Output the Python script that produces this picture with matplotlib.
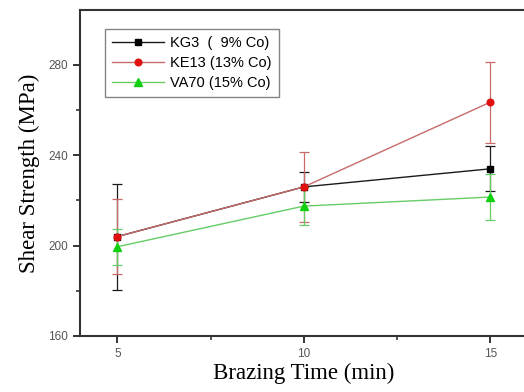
import matplotlib.pyplot as plt
from matplotlib.lines import Line2D
from matplotlib.ticker import MultipleLocator, FixedLocator

# Brazing time (min)
time = [5, 10, 15]

# shear strength (MPa) and error bars
kg3 = [204, 226, 234]
kg3_err = [23.5, 6.6, 10]
ke13 = [204, 226, 263.5]
ke13_err = [16.5, 15.4, 18]
va70 = [199.5, 217.5, 221.5]
va70_err = [8, 8.5, 10]

labels = ['KG3  (  9% Co)', 'KE13 (13% Co)', 'VA70 (15% Co)']


def plot_shear_strength():
    fig = plt.figure(figsize=(5.24, 3.92), dpi=100)
    ax = fig.add_axes([80 / 524, 56 / 392, 447.6 / 524, 326 / 392])

    series = [
        (kg3, kg3_err, labels[0], '#1a1a1a', '#000000', 's', 4.2),
        (ke13, ke13_err, labels[1], '#c86a6a', '#e01010', 'o', 4.8),
        (va70, va70_err, labels[2], '#66cc66', '#10d010', '^', 5.2),
    ]
    handles = []
    for vals, errs, lab, lc, mc, mk, ms in series:
        ax.errorbar(time, vals, yerr=errs, color=lc, lw=1.0, marker=mk,
                    ms=ms, mfc=mc, mec=mc, ecolor=lc, elinewidth=0.9,
                    capsize=3.5, capthick=0.9)
        handles.append(Line2D([], [], color=lc, lw=1.0, marker=mk, ms=ms,
                              mfc=mc, mec=mc, label=lab))

    ax.set_xlim(4, 16)
    ax.set_ylim(160, 304.3)
    ax.xaxis.set_major_locator(MultipleLocator(5))
    ax.xaxis.set_minor_locator(FixedLocator([7.5, 12.5]))
    ax.yaxis.set_major_locator(FixedLocator([160, 200, 240, 280]))
    ax.yaxis.set_minor_locator(FixedLocator([180, 220, 260]))
    ax.set_xticks([5, 10, 15])

    for side in ['left', 'bottom', 'top']:
        ax.spines[side].set_linewidth(1.5)
        ax.spines[side].set_color('#333333')
    ax.spines['right'].set_visible(False)

    ax.tick_params(which='major', direction='out', length=5, width=1.4,
                   color='#333333', labelsize=8.5, labelcolor='#555555')
    ax.tick_params(which='minor', direction='out', length=3, width=1.2,
                   color='#333333')
    ax.tick_params(top=False, right=False, which='both')
    for t in ax.get_xticklabels() + ax.get_yticklabels():
        t.set_family('Liberation Sans')

    ax.set_xlabel('Brazing Time (min)', family='Liberation Serif',
                  fontsize=16.5, labelpad=2)
    ax.set_ylabel('Shear Strength (MPa)', family='Liberation Serif',
                  fontsize=16.5, labelpad=6)

    leg = ax.legend(handles=handles, loc='upper left',
                    bbox_to_anchor=(0.055, 0.942),
                    prop={'family': 'Liberation Sans', 'size': 10.5},
                    frameon=True, fancybox=False, edgecolor='#666666',
                    handlelength=3.6, borderpad=0.5, labelspacing=0.4,
                    handletextpad=0.4, borderaxespad=0)
    leg.get_frame().set_linewidth(1.0)

    fig.savefig('out.png', dpi=100)


if __name__ == '__main__':
    plot_shear_strength()
